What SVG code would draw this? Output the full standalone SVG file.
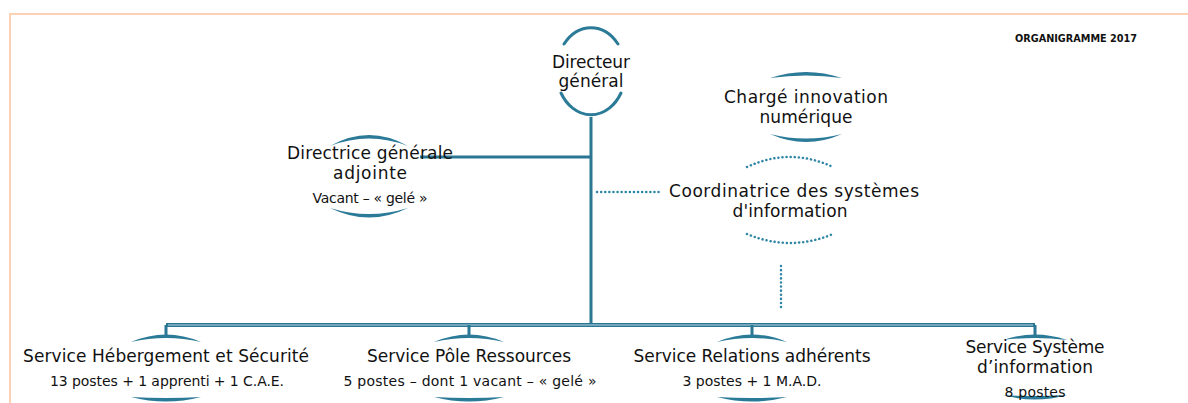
<svg xmlns="http://www.w3.org/2000/svg" width="1188" height="403" viewBox="0 0 1188 403">
  <style>
    .lbl { font-family: "DejaVu Sans", "Liberation Sans", sans-serif; font-size: 17px; fill: #111; text-anchor: middle; }
    .sub { font-family: "DejaVu Sans", "Liberation Sans", sans-serif; font-size: 14px; fill: #111; text-anchor: middle; }
    .title { font-family: "DejaVu Sans", "Liberation Sans", sans-serif; font-size: 10px; font-weight: bold; fill: #111; }
    .arc { fill: #2b7b98; stroke: none; }
    .oval { fill: none; stroke: #2b7b98; stroke-width: 3; stroke-linecap: round; }
    .dots { fill: none; stroke: #2f86a6; stroke-width: 2.5; stroke-dasharray: 0.1 4; stroke-linecap: round; }
    .line { fill: none; stroke: #2b7793; stroke-width: 3; }
    .bus { fill: none; stroke: #2b7793; stroke-width: 4; }
    .busin { fill: none; stroke: #8db6c8; stroke-width: 1.6; }
    .border { fill: none; stroke: #fbd2b4; stroke-width: 2; }
  </style>

  <path class="border" d="M10,403 V14 H1188"/>

  <text class="title" x="1015" y="42" textLength="122" lengthAdjust="spacingAndGlyphs">ORGANIGRAMME 2017</text>

  <g id="connectors">
    <path class="line" d="M591,117 V325"/>
    <path class="line" d="M420,157 H591"/>
    <path class="dots" d="M597,192 H662"/>
    <path class="dots" d="M781,266 V310"/>
    <path class="bus" d="M166,325 H1035"/>
    <path class="busin" d="M168,325 H1033"/>
    <path class="line" d="M166,325 V337 M469,325 V337 M752,325 V337 M1035,325 V337"/>
  </g>

  <g id="directeur-general">
    <path class="oval" d="M564,44 A35 45 0 0 1 618,44"/>
    <path class="oval" d="M561,93 A35 45 0 0 0 621,93"/>
    <text class="lbl" x="591" y="68" textLength="78">Directeur</text>
    <text class="lbl" x="591" y="87" textLength="65">général</text>
  </g>

  <g id="directrice-adjointe">
    <path class="arc" d="M330,146 Q369,124 408,146 Q369,131 330,146 Z"/>
    <path class="arc" d="M330,208 Q369,227 408,208 Q369,220 330,208 Z"/>
    <text class="lbl" x="370" y="159" textLength="166">Directrice générale</text>
    <text class="lbl" x="370" y="179" textLength="74">adjointe</text>
    <text class="sub" x="370" y="203" textLength="115">Vacant – « gelé »</text>
  </g>

  <g id="charge-innovation">
    <path class="arc" d="M770,78 Q806,66 842,78 Q806,73 770,78 Z"/>
    <path class="arc" d="M770,134 Q806,150 842,134 Q806,143 770,134 Z"/>
    <text class="lbl" x="806" y="103" textLength="164">Chargé innovation</text>
    <text class="lbl" x="806" y="123" textLength="93">numérique</text>
  </g>

  <g id="coordinatrice-si">
    <path class="dots" d="M747,167 Q790,147 833,167"/>
    <path class="dots" d="M747,234 Q790,252 833,234"/>
    <text class="lbl" x="794" y="197" textLength="250">Coordinatrice des systèmes</text>
    <text class="lbl" x="790" y="217" textLength="115">d'information</text>
  </g>

  <g id="service-hebergement">
    <path class="arc" d="M131,342 Q166,327 201,342 Q166,334 131,342 Z"/>
    <path class="arc" d="M131,397 Q166,406 201,397 Q166,399 131,397 Z"/>
    <text class="lbl" x="166" y="362" textLength="286">Service Hébergement et Sécurité</text>
    <text class="sub" x="167" y="386" textLength="234">13 postes + 1 apprenti + 1 C.A.E.</text>
  </g>

  <g id="service-pole-ressources">
    <path class="arc" d="M434,342 Q469,327 504,342 Q469,334 434,342 Z"/>
    <path class="arc" d="M434,397 Q469,406 504,397 Q469,399 434,397 Z"/>
    <text class="lbl" x="469" y="362" textLength="204">Service Pôle Ressources</text>
    <text class="sub" x="470" y="386" textLength="253">5 postes – dont 1 vacant – « gelé »</text>
  </g>

  <g id="service-relations">
    <path class="arc" d="M717,342 Q752,327 787,342 Q752,334 717,342 Z"/>
    <path class="arc" d="M717,397 Q752,406 787,397 Q752,399 717,397 Z"/>
    <text class="lbl" x="752" y="362" textLength="237">Service Relations adhérents</text>
    <text class="sub" x="752" y="386" textLength="139">3 postes + 1 M.A.D.</text>
  </g>

  <g id="service-si">
    <path class="arc" d="M1003,340 Q1035,329 1067,340 Q1035,336 1003,340 Z"/>
    <path class="arc" d="M1003,395 Q1035,404 1067,395 Q1035,397 1003,395 Z"/>
    <text class="lbl" x="1035" y="353" textLength="139">Service Système</text>
    <text class="lbl" x="1035" y="373" textLength="116">d’information</text>
    <text class="sub" x="1035" y="397" textLength="61">8 postes</text>
  </g>
</svg>
